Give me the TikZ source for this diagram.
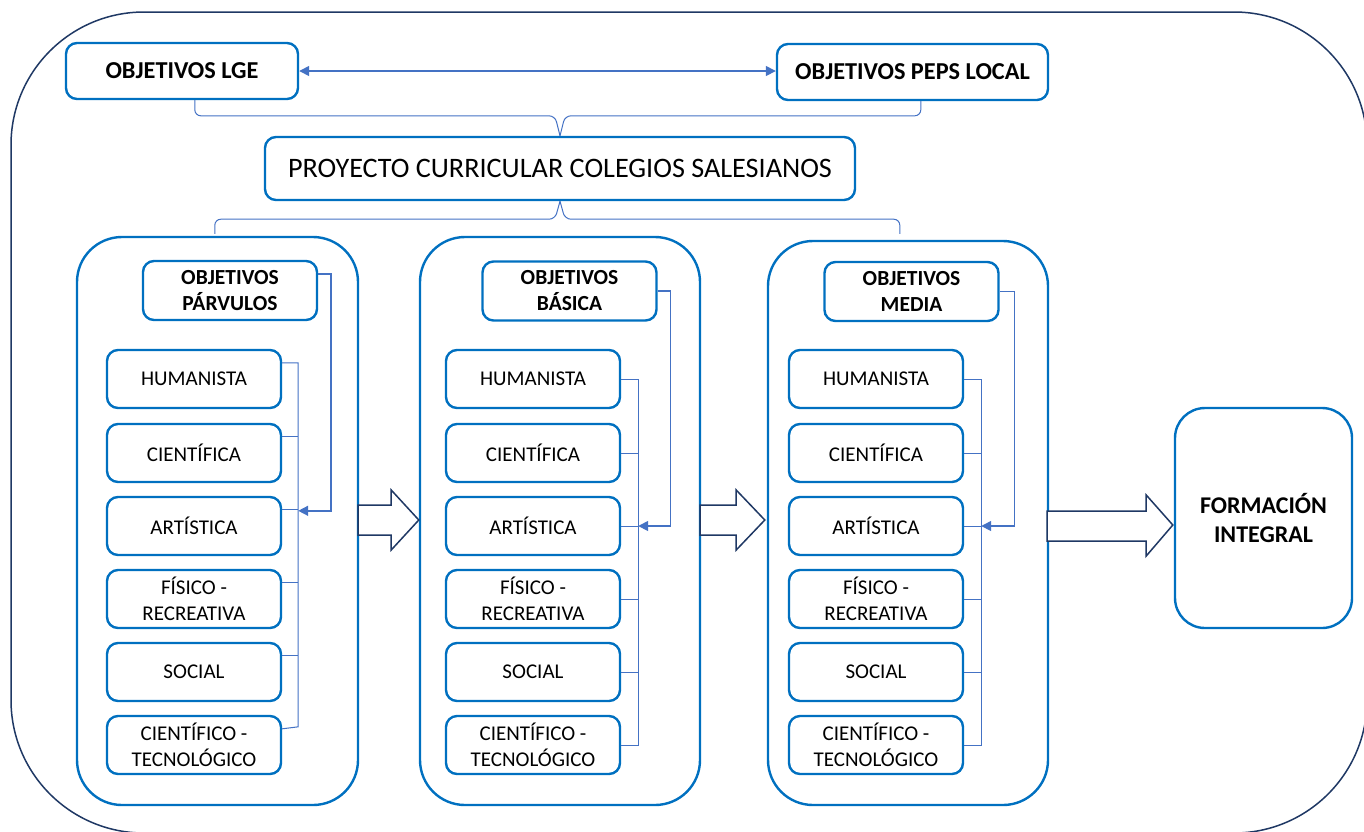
\documentclass[tikz,border=0pt]{standalone}
\usepackage{fontspec}
\setmainfont{Carlito}
\usetikzlibrary{calc,arrows.meta}
\definecolor{boxblue}{HTML}{0070C0}
\definecolor{linkblue}{HTML}{4472C4}
\definecolor{navy}{HTML}{1F3864}
\begin{document}
\begin{tikzpicture}[x=1pt,y=-1pt,
 box/.style={draw=boxblue,line width=2.4pt,rounded corners=11pt,align=center,inner sep=0pt,fill=white},
 smallbox/.style={box,minimum width=174pt,minimum height=58pt,font=\fontsize{21}{26}\selectfont},
 headbox/.style={box,minimum width=174pt,minimum height=59pt,font=\fontsize{21.5}{26}\selectfont\bfseries},
 colbox/.style={draw=boxblue,line width=2.4pt,rounded corners=45pt,inner sep=0pt},
 link/.style={draw=linkblue,line width=1pt},
 linkarrow/.style={draw=linkblue,line width=1.5pt,-{Triangle[length=10pt,width=10pt]}},
 blockarrow/.style={draw=navy,line width=1.5pt,fill=white,line join=miter},
]
\useasboundingbox (0,0) rectangle (1364,831);
\draw[navy,line width=1.5pt,rounded corners=133pt] (11,12) rectangle (1367,833);

% top level
\node[box,minimum width=232pt,minimum height=56pt,font=\fontsize{24.3}{29}\selectfont\bfseries] (lge) at (182,71) {OBJETIVOS LGE};
\node[box,minimum width=271pt,minimum height=56pt,font=\fontsize{24.3}{29}\selectfont\bfseries] (peps) at (912.5,72) {OBJETIVOS PEPS LOCAL};
\draw[linkblue,line width=1.5pt,{Triangle[length=10pt,width=10pt]}-{Triangle[length=10pt,width=10pt]}] (lge.east) -- (lge.east -| peps.west);

\node[box,minimum width=590pt,minimum height=63pt,font=\fontsize{28.2}{33}\selectfont] (pcc) at (560,168.5) {PROYECTO CURRICULAR COLEGIOS SALESIANOS};

% brace under top boxes
\draw[link,rounded corners=6pt] ($(lge.south west)+(130,0)$) |- ($(pcc.north)+(-5,-20)$) -- (pcc.north);
\draw[link,rounded corners=6pt] ($(peps.south west)+(145,0)$) |- ($(pcc.north)+(5,-20)$) -- (pcc.north);

% columns
\node[colbox,minimum width=281pt,minimum height=568pt] (c1) at (217.5,521) {};
\node[colbox,minimum width=280pt,minimum height=568pt] (c2) at (560,521) {};
\node[colbox,minimum width=280pt,minimum height=564pt] (c3) at (908,523) {};

% brace under PCC
\draw[link,rounded corners=6pt] (pcc.south) -- ($(pcc.south)+(-5,18)$) -| ($(c1.north west)+(139,-2)$);
\draw[link,rounded corners=6pt] (pcc.south) -- ($(pcc.south)+(5,18)$) -| ($(c3.north west)+(133,-6)$);

% headers
\node[headbox] (h1) at (230,290.5) {OBJETIVOS\\PÁRVULOS};
\node[headbox] (h2) at (569.5,291) {OBJETIVOS\\BÁSICA};
\node[headbox] (h3) at (911.5,291.5) {OBJETIVOS\\MEDIA};

% small boxes
\foreach \c/\x in {a/194,b/533,d/876}{
 \node[smallbox] (\c1) at (\x,379) {HUMANISTA};
 \node[smallbox] (\c2) at (\x,453) {CIENTÍFICA};
 \node[smallbox] (\c3) at (\x,526) {ARTÍSTICA};
 \node[smallbox] (\c4) at (\x,599) {FÍSICO -\\RECREATIVA};
 \node[smallbox] (\c5) at (\x,672) {SOCIAL};
 \node[smallbox] (\c6) at (\x,745) {CIENTÍFICO -\\TECNOLÓGICO};
}

% column 1 bracket
\draw[link] ($(a1.north east)+(0,14)$) -- ++(16,0) -- ($(a6.north east)+(16,12)$) -- ($(a6.north east)+(0,14)$);
\foreach \n in {a2,a3,a4,a5}{\draw[link] ($(\n.north east)+(0,14)$) -- ++(16,0);}
\draw[linkarrow] ($(h1.north east)+(0,14)$) -- ++(13,0) |- ($(a3.north east)+(16,15)$);

% column 2 bracket
\draw[link] (b1.east) -- ++(17,0) |- (b6.east);
\foreach \n in {b2,b3,b4,b5}{\draw[link] (\n.east) -- ++(17,0);}
\draw[linkarrow] (h2.east) -- ++(13,0) |- ($(b3.east)+(17,0)$);

% column 3 bracket
\draw[link] (d1.east) -- ++(17,0) |- (d6.east);
\foreach \n in {d2,d3,d4,d5}{\draw[link] (\n.east) -- ++(17,0);}
\draw[linkarrow] (h3.east) -- ++(15,0) |- ($(d3.east)+(17,0)$);

% result box
\node[box,rounded corners=30pt,minimum width=177pt,minimum height=220pt,font=\fontsize{24}{29}\selectfont\bfseries] (fi) at (1263.5,518) {FORMACIÓN\\INTEGRAL};

% block arrows
\draw[blockarrow] ($(c1.east)+(-1,-16)$) -- ++(33,0) -- ++(0,-15) -- ($(c2.west)+(0,-1)$) -- ($(c1.east)+(32,29)$) -- ++(0,-15) -- ++(-33,0) -- cycle;
\draw[blockarrow] ($(c2.east)+(-1,-16)$) -- ++(36,0) -- ++(0,-15) -- ($(c3.west)+(-2,-3)$) -- ($(c2.east)+(35,29)$) -- ++(0,-15) -- ++(-36,0) -- cycle;
\draw[blockarrow] ($(c3.east)+(-2,-12)$) -- ++(99,0) -- ++(0,-16) -- ($(fi.west)+(-1,7)$) -- ($(c3.east)+(97,33)$) -- ++(0,-15) -- ++(-99,0) -- cycle;
\end{tikzpicture}
\end{document}
